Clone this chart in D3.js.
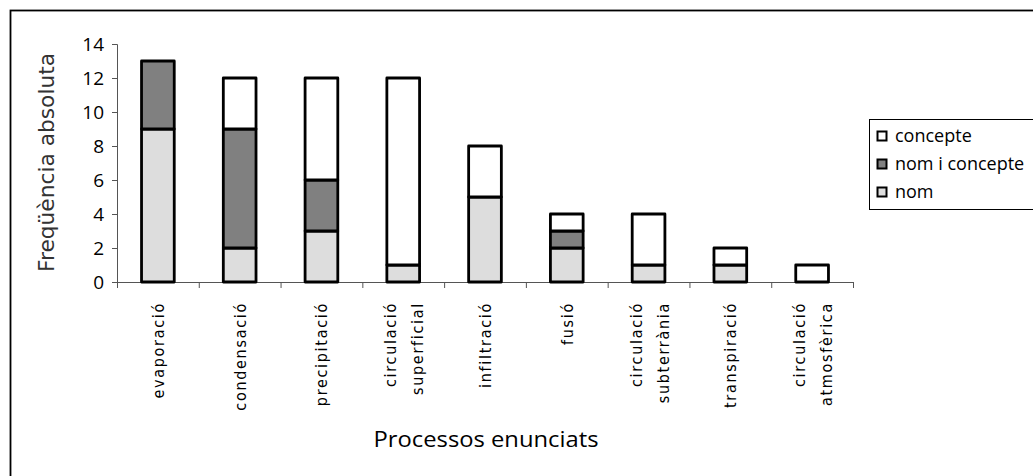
<!DOCTYPE html>
<html>
<head>
<meta charset="utf-8">
<script src="https://cdn.jsdelivr.net/npm/d3@7"></script>
<style>
  html, body { margin: 0; padding: 0; background: #fff; }
  svg { display: block; }
  text { font-family: "DejaVu Sans", sans-serif; fill: #000; }
</style>
</head>
<body>
<script>
// Processes of the water cycle named by students
const categories = [
  ["evaporació"],
  ["condensació"],
  ["precipitació"],
  ["circulació", "superficial"],
  ["infiltració"],
  ["fusió"],
  ["circulació", "subterrània"],
  ["transpiració"],
  ["circulació", "atmosfèrica"]
];
const nom         = [9, 2, 3, 1, 5, 2, 1, 1, 0];
const nomConcepte = [4, 7, 3, 0, 0, 1, 0, 0, 0];
const concepte    = [0, 3, 6, 11, 3, 1, 3, 1, 1];
const seriesKeys  = ["nom", "nomConcepte", "concepte"];
const seriesNames = { nom: "nom", nomConcepte: "nom i concepte", concepte: "concepte" };
const seriesFill  = { nom: "#dddddd", nomConcepte: "#808080", concepte: "#ffffff" };
const yTicks = [0, 2, 4, 6, 8, 10, 12, 14];

const W = 1033, H = 476;
const svg = d3.select("body").append("svg").attr("width", W).attr("height", H);

// outer chart frame
svg.append("rect").attr("x", 10.5).attr("y", 10.5).attr("width", 1100).attr("height", 600)
  .attr("fill", "none").attr("stroke", "#000").attr("stroke-width", 1.8);

const x0 = 117, x1 = 853, yTop = 44, yBot = 282;
const x = d3.scaleBand().domain(d3.range(categories.length)).range([x0, x1]).paddingInner(0.6).paddingOuter(0.3);
const y = d3.scaleLinear().domain([0, 14]).range([yBot, yTop]);

const rows = categories.map((c, i) => ({ i, nom: nom[i], nomConcepte: nomConcepte[i], concepte: concepte[i] }));
const stacked = d3.stack().keys(seriesKeys)(rows);

// axes
const yAxis = svg.append("g").attr("transform", `translate(${x0},0)`)
  .call(d3.axisLeft(y).tickValues(yTicks).tickSize(5).tickSizeOuter(5).tickPadding(8));
yAxis.select(".domain").attr("stroke", "#555").attr("stroke-width", 1);
yAxis.selectAll(".tick line").attr("stroke", "#555");
yAxis.selectAll(".tick text").style("font-size", "19px").style("font-family", "'Open Sans', sans-serif").attr("fill", "#000");

const step = (x1 - x0) / categories.length;
const xAxis = svg.append("g").attr("transform", `translate(0,${yBot})`);
xAxis.append("line").attr("x1", x0).attr("x2", x1).attr("y1", 0.5).attr("y2", 0.5).attr("stroke", "#555");
xAxis.selectAll("line.tk").data(d3.range(categories.length + 1)).join("line").attr("class", "tk")
  .attr("x1", d => x0 + d * step + 0.5).attr("x2", d => x0 + d * step + 0.5)
  .attr("y1", 0).attr("y2", 6).attr("stroke", "#555");

// stacked bars
svg.append("g").selectAll("g").data(stacked).join("g")
  .attr("fill", d => seriesFill[d.key])
  .selectAll("rect").data(d => d.filter(s => s[1] > s[0])).join("rect")
  .attr("x", d => x(d.data.i))
  .attr("width", x.bandwidth())
  .attr("y", d => y(d[1]))
  .attr("height", d => y(d[0]) - y(d[1]))
  .attr("stroke", "#000").attr("stroke-width", 2.8).attr("stroke-linejoin", "round");

// category labels, rotated
const lab = svg.append("g").selectAll("text").data(categories).join("text")
  .attr("transform", (d, i) => `translate(${x(i) + x.bandwidth() / 2},302) rotate(-90)`)
  .attr("text-anchor", "end")
  .style("font-size", "16px")
  .style("letter-spacing", "1.7px")
  .style("font-family", "'DejaVu Sans Condensed', 'DejaVu Sans', sans-serif");
lab.each(function (d) {
  const t = d3.select(this);
  const n = d.length;
  d.forEach((line, k) => {
    const off = n === 1 ? 6 : (k === 0 ? -7 : 20);
    t.append("tspan").attr("x", 0).attr("y", off).text(line);
  });
});

// axis titles
svg.append("text")
  .attr("transform", `translate(54,${(53 + 272) / 2}) rotate(-90)`)
  .attr("text-anchor", "middle")
  .attr("textLength", 219).attr("lengthAdjust", "spacingAndGlyphs")
  .style("font-size", "21px").style("fill", "#333")
  .text("Freqüència absoluta");

svg.append("text").attr("x", 486).attr("y", 447).attr("text-anchor", "middle")
  .style("font-size", "22px").style("font-family", "'Open Sans', sans-serif")
  .attr("textLength", 225).attr("lengthAdjust", "spacingAndGlyphs")
  .text("Processos enunciats");

// legend
const lg = svg.append("g");
lg.append("rect").attr("x", 869.5).attr("y", 119.5).attr("width", 200).attr("height", 90)
  .attr("fill", "#fff").attr("stroke", "#000").attr("stroke-width", 1);
const legendOrder = ["concepte", "nomConcepte", "nom"];
const li = lg.selectAll("g.item").data(legendOrder).join("g").attr("class", "item")
  .attr("transform", (d, i) => `translate(877,${136 + i * 28})`);
li.append("rect").attr("x", 0.5).attr("y", -4.5).attr("width", 9).attr("height", 9)
  .attr("fill", d => seriesFill[d]).attr("stroke", "#000").attr("stroke-width", 2);
li.append("text").attr("x", 18).attr("y", 6)
  .style("font-size", "18px").style("font-family", "'Open Sans', sans-serif")
  .text(d => seriesNames[d]);
</script>
</body>
</html>
